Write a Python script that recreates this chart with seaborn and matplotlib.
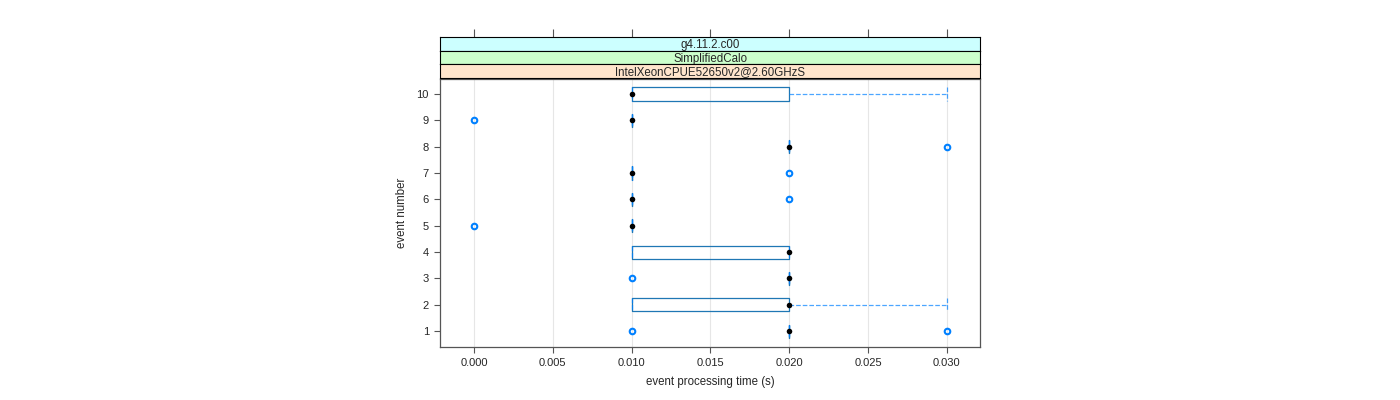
import matplotlib
matplotlib.use("Agg")
import matplotlib.pyplot as plt
import seaborn as sns
import pandas as pd

# event processing times (s) per event
event_1 = [0.01, 0.02, 0.02, 0.02, 0.02, 0.03]
event_2 = [0.01, 0.01, 0.01, 0.02, 0.02, 0.02, 0.02, 0.03]
event_3 = [0.01, 0.02, 0.02, 0.02, 0.02, 0.02]
event_4 = [0.01, 0.01, 0.01, 0.02, 0.02, 0.02, 0.02, 0.02]
event_5 = [0.00, 0.01, 0.01, 0.01, 0.01, 0.01]
event_6 = [0.01, 0.01, 0.01, 0.01, 0.01, 0.02]
event_7 = [0.01, 0.01, 0.01, 0.01, 0.01, 0.02]
event_8 = [0.02, 0.02, 0.02, 0.02, 0.02, 0.03]
event_9 = [0.00, 0.01, 0.01, 0.01, 0.01, 0.01]
event_10 = [0.01, 0.01, 0.01, 0.01, 0.01, 0.02, 0.02, 0.03]

events = [event_1, event_2, event_3, event_4, event_5,
          event_6, event_7, event_8, event_9, event_10]
event_labels = [str(i) for i in range(1, 11)]
strip_labels = ["g4.11.2.c00", "SimplifiedCalo", "IntelXeonCPUE52650v2@2.60GHzS"]
strip_colors = ["#ccffff", "#ccffcc", "#ffe5cc"]
x_ticks = [0.000, 0.005, 0.010, 0.015, 0.020, 0.025, 0.030]

rows = []
for lab, vals in zip(event_labels, events):
    for v in vals:
        rows.append({"event": lab, "time": v})
df = pd.DataFrame(rows)

sns.set_style("white")
plt.rcParams["font.family"] = ["Liberation Sans", "DejaVu Sans"]
plt.rcParams["font.size"] = 8

blue = "#0080ff"
order = event_labels[::-1]  # 10 on top, 1 at bottom
xlim = (-0.00216, 0.0321)

fig = plt.figure(figsize=(14, 4), dpi=100)
ax = fig.add_axes([440 / 1400, 1 - 347 / 400, 540 / 1400, 268 / 400])

ax.grid(axis="x", color="#e6e6e6", linewidth=0.8)
ax.set_axisbelow(True)

sns.boxplot(data=df, x="time", y="event", order=order, orient="h",
            fill=False, width=0.5, whis=1.5, linecolor=blue, linewidth=0.9,
            medianprops=dict(linewidth=0),
            whiskerprops=dict(linestyle="--", color=blue, linewidth=0.9, alpha=0.7),
            capprops=dict(linestyle="--", color=blue, linewidth=0.9, alpha=0.7),
            capwidths=0.5,
            flierprops=dict(marker="o", markerfacecolor="none",
                            markeredgecolor=blue, markeredgewidth=1.5, markersize=4),
            ax=ax)

sns.pointplot(data=df, x="time", y="event", order=order, orient="h",
              estimator="median", errorbar=None, color="black",
              markers="o", linestyle="none", markersize=4, markeredgewidth=0, ax=ax)

ax.set_xlim(*xlim)
ax.set_ylim(9.6, -0.57)
ax.set_xticks(x_ticks)
ax.set_xticklabels([f"{t:.3f}" for t in x_ticks])
ax.set_xlabel("event processing time (s)", labelpad=6, fontsize=8.3)
ax.set_ylabel("event number", labelpad=6, fontsize=8.3)
ax.tick_params(axis="both", direction="out", length=4, width=0.8, labelsize=8,
               color="#555555", bottom=True, left=True, top=False, right=False, pad=4)
for s in ax.spines.values():
    s.set_color("#555555")
    s.set_linewidth(0.9)

# strips above the panel
strip_top = 36.7
strip_h = (78.3 - 36.7) / 3
for i, (lab, col) in enumerate(zip(strip_labels, strip_colors)):
    y0 = strip_top + i * strip_h
    sax = fig.add_axes([440 / 1400, 1 - (y0 + strip_h) / 400, 540 / 1400, strip_h / 400])
    sax.set_facecolor(col)
    sax.set_xlim(*xlim)
    sax.set_ylim(0, 1)
    sax.text(0.5, 0.42, lab, transform=sax.transAxes, ha="center", va="center",
             fontsize=8.3)
    sax.set_yticks([])
    if i == 0:
        sax.set_xticks(x_ticks)
        sax.tick_params(axis="x", direction="out", length=6, width=0.8, color="#555555",
                        top=True, bottom=False, labeltop=False, labelbottom=False)
    else:
        sax.set_xticks([])
    for s in sax.spines.values():
        s.set_color("black")
        s.set_linewidth(0.8)

fig.savefig("out.png", dpi=100)
